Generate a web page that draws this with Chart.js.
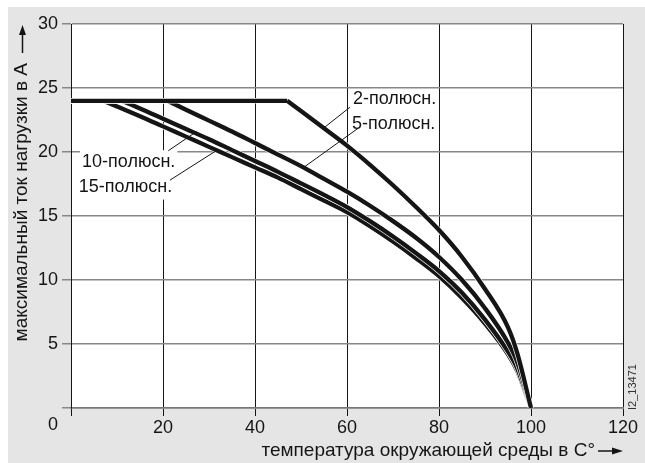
<!DOCTYPE html>
<html>
<head>
<meta charset="utf-8">
<script src="https://cdn.jsdelivr.net/npm/chart.js@4/dist/chart.umd.min.js"></script>
<style>
html,body{margin:0;padding:0;background:#fff;}
canvas{display:block;}
</style>
</head>
<body>
<canvas id="c" width="645" height="463"></canvas>
<script>
// ---- data ----
const xTicks = [0, 20, 40, 60, 80, 100, 120];
const yTicks = [5, 10, 15, 20, 25, 30];

const temps2  = [0, 47, 50, 55, 60, 65, 70, 75, 80, 85, 90, 95, 97, 100];
const amps2   = [24, 24, 23.2, 21.85, 20.5, 19.0, 17.4, 15.7, 13.9, 11.8, 9.3, 6.3, 4.3, 0];

const temps5  = [0, 21, 25, 30, 35, 40, 45, 50, 55, 60, 65, 70, 75, 80, 85, 90, 95, 97, 100];
const amps5   = [24, 24, 23.3, 22.45, 21.6, 20.7, 19.8, 18.9, 17.9, 16.9, 15.8, 14.6, 13.3, 11.8, 10.0, 7.8, 5.1, 3.6, 0];

const temps10 = [0, 11, 15, 20, 25, 30, 35, 40, 45, 50, 55, 60, 65, 70, 75, 80, 85, 90, 95, 97, 100];
const amps10  = [24, 24, 23.4, 22.6, 21.8, 21.0, 20.15, 19.3, 18.45, 17.55, 16.65, 15.7, 14.6, 13.4, 12.1, 10.7, 9.0, 6.9, 4.4, 3.1, 0];

const temps15 = [0, 7, 10, 15, 20, 25, 30, 35, 40, 45, 50, 55, 60, 65, 70, 75, 80, 85, 90, 95, 97, 100];
const amps15  = [24, 24, 23.55, 22.8, 22.0, 21.2, 20.4, 19.6, 18.8, 18.0, 17.1, 16.2, 15.3, 14.2, 13.0, 11.7, 10.3, 8.6, 6.6, 4.2, 2.9, 0];

const seriesNames = ['15-полюсн.', '10-полюсн.', '5-полюсн.', '2-полюсн.'];
const seriesTemps = [temps15, temps10, temps5, temps2];
const seriesAmps  = [amps15, amps10, amps5, amps2];

// label anchors (data coords): text left/center, leader start, leader end on curve
const labelText   = ['2-полюсн.', '5-полюсн.', '10-полюсн.', '15-полюсн.'];
const labelPos    = [[61.3, 24.1], [61.1, 22.2], [2.4, 19.2], [1.7, 17.3]];
const leaderFrom  = [[60.65, 23.5], [62.4, 21.85], [21.15, 20.1], [21.5, 17.8]];
const leaderTo    = [[54.85, 21.85], [50.4, 18.75], [27.3, 21.6], [32.0, 20.2]];
const labelBoxed  = [false, false, true, true];

const xTitle = 'температура окружающей среды в С°';
const yTitle = 'максимальный ток нагрузки в А';
const docId  = 'I2_13471';

// ---- build datasets: each curve = flat part + curved part, each with white halo + black line ----
const datasets = [];
seriesNames.forEach((name, i) => {
  const pts = seriesTemps[i].map((t, k) => ({x: t, y: seriesAmps[i][k]}));
  const parts = [pts.slice(0, 2), pts.slice(1)];
  const baseOrder = (seriesNames.length - i) * 2; // earlier series drawn first
  parts.forEach((p, j) => {
    datasets.push({label: name + ' halo ' + j, data: p, borderColor: '#ffffff', borderWidth: 5.6,
      pointRadius: 0, cubicInterpolationMode: 'monotone', order: baseOrder, fill: false});
    datasets.push({label: name + ' ' + j, data: p, borderColor: '#151515', borderWidth: 4.3,
      pointRadius: 0, cubicInterpolationMode: 'monotone', order: baseOrder - 1, fill: false});
  });
});

const FONT = '"Liberation Sans", Arial, sans-serif';

const deco = {
  id: 'deco',
  beforeDraw(chart) {
    const ctx = chart.ctx, a = chart.chartArea;
    ctx.save();
    ctx.fillStyle = '#ffffff';
    ctx.fillRect(0, 0, chart.width, chart.height);
    ctx.fillStyle = '#e5e5e5';
    ctx.fillRect(8, 7, chart.width - 8, chart.height - 7);
    ctx.fillStyle = '#ffffff';
    ctx.fillRect(a.left, a.top, a.right - a.left, a.bottom - a.top);
    ctx.restore();
  },
  beforeDatasetsDraw(chart) {
    const ctx = chart.ctx, xs = chart.scales.x, ys = chart.scales.y;
    ctx.save();
    ctx.font = '18px ' + FONT;
    ctx.fillStyle = '#ffffff';
    labelText.forEach((t, i) => {
      if (!labelBoxed[i]) return;
      const x = xs.getPixelForValue(labelPos[i][0]);
      const y = ys.getPixelForValue(labelPos[i][1]);
      const w = ctx.measureText(t).width;
      ctx.fillRect(x - 2, y - 12, w + 4, 25);
    });
    ctx.restore();
  },
  afterDatasetsDraw(chart) {
    const ctx = chart.ctx, xs = chart.scales.x, ys = chart.scales.y;
    ctx.save();
    // leader lines
    ctx.strokeStyle = '#151515';
    ctx.lineWidth = 1;
    labelText.forEach((t, i) => {
      ctx.beginPath();
      ctx.moveTo(xs.getPixelForValue(leaderFrom[i][0]), ys.getPixelForValue(leaderFrom[i][1]));
      ctx.lineTo(xs.getPixelForValue(leaderTo[i][0]), ys.getPixelForValue(leaderTo[i][1]));
      ctx.stroke();
    });
    // label texts
    ctx.fillStyle = '#151515';
    ctx.font = '18px ' + FONT;
    ctx.textAlign = 'left';
    ctx.textBaseline = 'middle';
    labelText.forEach((t, i) => {
      ctx.fillText(t, xs.getPixelForValue(labelPos[i][0]), ys.getPixelForValue(labelPos[i][1]));
    });
    // the "0" at the corner
    ctx.textAlign = 'center';
    ctx.fillText('0', xs.getPixelForValue(0) - 18, xs.top + 17);

    // x title + arrow
    ctx.font = '19px ' + FONT;
    ctx.textAlign = 'right';
    ctx.fillText(xTitle, 595, 451);
    ctx.lineWidth = 1.5;
    ctx.beginPath(); ctx.moveTo(598, 451); ctx.lineTo(614, 451); ctx.stroke();
    ctx.beginPath(); ctx.moveTo(623, 451); ctx.lineTo(612, 447.5); ctx.lineTo(612, 454.5); ctx.closePath(); ctx.fill();

    // y title + arrow
    ctx.save();
    ctx.translate(22, 63);
    ctx.rotate(-Math.PI / 2);
    ctx.textAlign = 'right';
    ctx.fillText(yTitle, 0, 0);
    ctx.restore();
    ctx.beginPath(); ctx.moveTo(22.5, 53); ctx.lineTo(22.5, 34); ctx.stroke();
    ctx.beginPath(); ctx.moveTo(22.5, 25); ctx.lineTo(19, 35); ctx.lineTo(26, 35); ctx.closePath(); ctx.fill();

    // document id
    ctx.save();
    ctx.translate(633, 410);
    ctx.rotate(-Math.PI / 2);
    ctx.font = '11px ' + FONT;
    ctx.fillStyle = '#333';
    ctx.textAlign = 'left';
    ctx.fillText(docId, 0, 0);
    ctx.restore();
    ctx.restore();
  }
};

new Chart(document.getElementById('c'), {
  type: 'line',
  data: {datasets},
  plugins: [deco],
  options: {
    responsive: false,
    animation: false,
    devicePixelRatio: 1,
    layout: {padding: {left: 0, right: 22, top: 24, bottom: 0}},
    plugins: {legend: {display: false}, tooltip: {enabled: false}},
    font: {family: FONT},
    scales: {
      x: {
        type: 'linear', min: 0, max: 120,
        afterBuildTicks: s => { s.ticks = xTicks.map(v => ({value: v})); },
        afterFit: s => { s.height = 55; },
        ticks: {font: {size: 18, family: FONT}, color: '#151515', padding: 1,
          maxRotation: 0, callback: v => (v === 0 ? '' : String(v))},
        grid: {color: '#151515', lineWidth: 1, tickLength: 8, tickColor: '#151515'},
        border: {color: '#777', width: 1.5}
      },
      y: {
        type: 'linear', min: 0, max: 30,
        afterBuildTicks: s => { s.ticks = [0].concat(yTicks).map(v => ({value: v})); },
        afterFit: s => { s.width = 71; },
        ticks: {font: {size: 18, family: FONT}, color: '#151515', padding: 4,
          callback: v => (v === 0 ? '' : String(v))},
        grid: {color: '#888', lineWidth: 1.5, tickLength: 9, tickColor: '#888'},
        border: {color: '#151515', width: 1}
      }
    }
  }
});
</script>
</body>
</html>
